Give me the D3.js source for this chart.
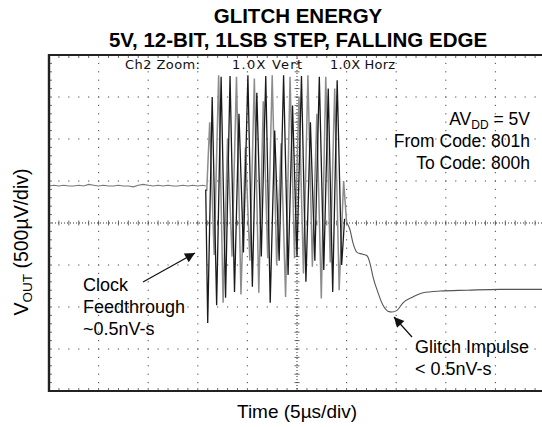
<!DOCTYPE html>
<html><head><meta charset="utf-8">
<script src="https://cdn.jsdelivr.net/npm/d3@7"></script>
<style>body{margin:0;background:#fff}svg{display:block}</style>
</head><body>
<svg id="c" width="542" height="427"></svg>
<script>
// ---- data (time in µs, voltage in mV relative to screen centre) ----
const titleLines = ["GLITCH ENERGY", "5V, 12-BIT, 1LSB STEP, FALLING EDGE"];
const xDomain = [0, 50];           // 10 div × 5 µs
const yDomain = [-2, 2];           // 8 div × 0.5 mV
const xGrid = [5, 10, 15, 20, 25, 30, 35, 40, 45];
const yGrid = [-1.5, -1, -0.5, 0, 0.5, 1, 1.5];

// pre-glitch baseline
const preT = [0,0.5,1,1.5,2,2.5,3,3.5,4,4.5,5,5.5,6,6.5,7,7.5,8,8.5,9,9.5,10,10.5,11,11.5,12,12.5,13,13.5,14,14.5,15,15.5,15.8];
const preV = [0.44,0.45,0.44,0.45,0.44,0.44,0.45,0.44,0.46,0.45,0.44,0.45,0.44,0.44,0.45,0.44,0.44,0.43,0.45,0.46,0.45,0.44,0.45,0.44,0.45,0.44,0.44,0.45,0.44,0.45,0.44,0.45,0.44];

// black burst trace
const blackT = [15.8,16.0,16.45,16.9,17.35,17.8,18.25,18.7,19.15,19.6,20.05,20.5,20.95,21.4,21.85,22.3,22.75,23.2,23.65,24.1,24.55,25.0,25.45,25.9,26.35,26.8,27.25,27.7,28.15,28.6,29.05,29.5,29.8];
const blackV = [0.40,-1.19,1.5,-0.98,1.74,-0.89,1.75,-0.82,1.3,-0.35,1.76,-0.76,1.55,-0.4,1.75,-0.95,1.1,-0.45,1.76,-0.62,1.4,-0.4,1.75,-0.7,1.2,-0.45,1.74,-0.56,1.6,-0.82,1.7,-0.5,0.05];

// grey burst trace
const greyT = [15.9,16.2,16.65,17.1,17.55,18.0,18.45,18.9,19.35,19.8,20.25,20.7,21.15,21.6,22.05,22.5,22.95,23.4,23.85,24.3,24.75,25.2,25.65,26.1,26.55,27.0,27.45,27.9,28.35,28.8,29.25,29.7,30.0];
const greyV = [0.38,1.2,-0.38,1.76,-0.95,1.0,-0.4,1.74,-0.85,0.9,-0.45,1.72,-0.83,1.45,-0.42,1.76,-0.5,0.95,-0.88,1.74,-0.42,1.5,-0.6,1.76,-0.52,1.3,-0.9,1.74,-0.47,1.6,-0.8,0.5,0.01];

// post-glitch settling
const postT = [30.0,30.34,30.65,31.05,31.55,32.06,32.36,32.66,33.17,33.67,34.17,34.58,35.08,35.69,36.69,37.7,39.42,42.14,45.46,50];
const postV = [0.01,-0.08,-0.24,-0.35,-0.37,-0.39,-0.48,-0.64,-0.83,-0.98,-1.05,-1.06,-1.04,-0.95,-0.88,-0.83,-0.81,-0.80,-0.79,-0.79];

const rightNotes = ["From Code: 801h", "To Code: 800h"];
const clockNote = ["Clock", "Feedthrough", "~0.5nV-s"];
const glitchNote = ["Glitch Impulse", "< 0.5nV-s"];

// ---- drawing ----
const svg = d3.select("#c");
const L = 49, R = 545, T = 55, B = 391;
const x = d3.scaleLinear().domain(xDomain).range([L, R]);
const y = d3.scaleLinear().domain(yDomain).range([B, T]);
const font = "'Liberation Sans', Arial, Helvetica, sans-serif";

const defs = svg.append("defs");
defs.append("clipPath").attr("id","plot")
  .append("rect").attr("x",L).attr("y",T).attr("width",R-L).attr("height",B-T);

// grid
const minorX = d3.range(0, 50.01, 1);   // 1/5 div
const minorY = d3.range(-2, 2.001, 0.1);
const g = svg.append("g");
xGrid.filter(d=>d!==25).forEach(t=>{
  minorY.forEach(v=>g.append("rect").attr("x",x(t)-0.6).attr("y",y(v)-0.6).attr("width",1.2).attr("height",1.2).attr("fill","#666"));
});
yGrid.filter(d=>d!==0).forEach(v=>{
  minorX.forEach(t=>g.append("rect").attr("x",x(t)-0.6).attr("y",y(v)-0.6).attr("width",1.2).attr("height",1.2).attr("fill","#666"));
});
// centre crosshair
g.append("line").attr("x1",L).attr("x2",542).attr("y1",y(0)).attr("y2",y(0))
  .attr("stroke","#333").attr("stroke-width",1).attr("stroke-dasharray","1,2");
g.append("line").attr("x1",x(25)).attr("x2",x(25)).attr("y1",T).attr("y2",B)
  .attr("stroke","#333").attr("stroke-width",1).attr("stroke-dasharray","1,2");
d3.range(0,50.01,1).forEach(t=>g.append("line").attr("x1",x(t)).attr("x2",x(t)).attr("y1",y(0)-2.5).attr("y2",y(0)+2.5).attr("stroke","#444").attr("stroke-width",0.8));
d3.range(-2,2.001,0.1).forEach(v=>g.append("line").attr("x1",x(25)-2.5).attr("x2",x(25)+2.5).attr("y1",y(v)).attr("y2",y(v)).attr("stroke","#444").attr("stroke-width",0.8));

// frame ticks
d3.range(0,50.01,1).forEach(t=>{
  g.append("line").attr("x1",x(t)).attr("x2",x(t)).attr("y1",T).attr("y2",T+3).attr("stroke","#444").attr("stroke-width",0.8);
  g.append("line").attr("x1",x(t)).attr("x2",x(t)).attr("y1",B).attr("y2",B-3).attr("stroke","#444").attr("stroke-width",0.8);
});
d3.range(-2,2.001,0.1).forEach(v=>{
  g.append("line").attr("x1",L).attr("x2",L+3).attr("y1",y(v)).attr("y2",y(v)).attr("stroke","#444").attr("stroke-width",0.8);
});

// traces
const line = d3.line().x(d=>x(d[0])).y(d=>y(d[1]));
const tr = svg.append("g").attr("clip-path","url(#plot)");
tr.append("path").datum(d3.zip(preT,preV)).attr("d",line).attr("fill","none").attr("stroke","#777").attr("stroke-width",1.1);
tr.append("path").datum(d3.zip(greyT,greyV)).attr("d",line).attr("fill","none").attr("stroke","#8c8c8c").attr("stroke-width",1.5);
tr.append("path").datum(d3.zip(blackT,blackV)).attr("d",line).attr("fill","none").attr("stroke","#1a1a1a").attr("stroke-width",1.3);
tr.append("path").datum(d3.zip(postT,postV)).attr("d",d3.line().x(d=>x(d[0])).y(d=>y(d[1])).curve(d3.curveMonotoneX)).attr("fill","none").attr("stroke","#555").attr("stroke-width",1.1);

// frame
svg.append("line").attr("x1",L).attr("x2",L).attr("y1",T-1).attr("y2",B+1).attr("stroke","#222").attr("stroke-width",2.4);
svg.append("line").attr("x1",L).attr("x2",542).attr("y1",T).attr("y2",T).attr("stroke","#222").attr("stroke-width",1.8);
svg.append("line").attr("x1",L).attr("x2",542).attr("y1",B).attr("y2",B).attr("stroke","#222").attr("stroke-width",2.2);

// titles
svg.append("text").attr("x",298).attr("y",23).attr("text-anchor","middle")
  .attr("font-family",font).attr("font-weight","bold").attr("font-size",20.5).text(titleLines[0]);
svg.append("text").attr("x",298).attr("y",46.5).attr("text-anchor","middle")
  .attr("font-family",font).attr("font-weight","bold").attr("font-size",20.5).text(titleLines[1]);

// scope header
const hdr = [["Ch2 Zoom:",125,75],["1.0X Vert",232,70],["1.0X Horz",330,65]];
hdr.forEach(h=>svg.append("text").attr("x",h[1]).attr("y",68.5).attr("font-family","'DejaVu Sans', Verdana, sans-serif")
  .attr("font-size",13).attr("fill","#111").attr("textLength",h[2]).attr("lengthAdjust","spacing").text(h[0]));

// right note
const rn = svg.append("text").attr("x",530).attr("y",125).attr("text-anchor","end").attr("font-family",font).attr("font-size",17.5);
rn.append("tspan").text("AV");
rn.append("tspan").attr("font-size",12).attr("dy",4).text("DD");
rn.append("tspan").attr("dy",-4).text(" = 5V");
rightNotes.forEach((s,i)=>svg.append("text").attr("x",530).attr("y",147+i*22).attr("text-anchor","end")
  .attr("font-family",font).attr("font-size",17.5).text(s));

// clock note
clockNote.forEach((s,i)=>svg.append("text").attr("x",83).attr("y",291+i*22).attr("font-family",font).attr("font-size",18).text(s));
glitchNote.forEach((s,i)=>svg.append("text").attr("x",415).attr("y",353+i*22).attr("font-family",font).attr("font-size",18).text(s));

// arrows
defs.append("marker").attr("id","ah").attr("viewBox","0 0 10 10").attr("refX",10).attr("refY",5)
  .attr("markerWidth",14).attr("markerHeight",10).attr("markerUnits","userSpaceOnUse").attr("orient","auto")
  .append("path").attr("d","M0,0L10,5L0,10Z").attr("fill","#111");
svg.append("line").attr("x1",143).attr("y1",282).attr("x2",195).attr("y2",253).attr("stroke","#111").attr("stroke-width",1.2).attr("marker-end","url(#ah)");
svg.append("line").attr("x1",412).attr("y1",337).attr("x2",394).attr("y2",317).attr("stroke","#111").attr("stroke-width",1.2).attr("marker-end","url(#ah)");

// axis labels
svg.append("text").attr("x",297).attr("y",418).attr("text-anchor","middle").attr("font-family",font).attr("font-size",19).text("Time (5µs/div)");
const yl = svg.append("text").attr("transform","translate(28,242) rotate(-90)").attr("text-anchor","middle").attr("font-family",font).attr("font-size",19.5);
yl.append("tspan").text("V");
yl.append("tspan").attr("font-size",13.5).attr("dy",4).text("OUT");
yl.append("tspan").attr("dy",-4).text(" (500µV/div)");
</script>
</body></html>
